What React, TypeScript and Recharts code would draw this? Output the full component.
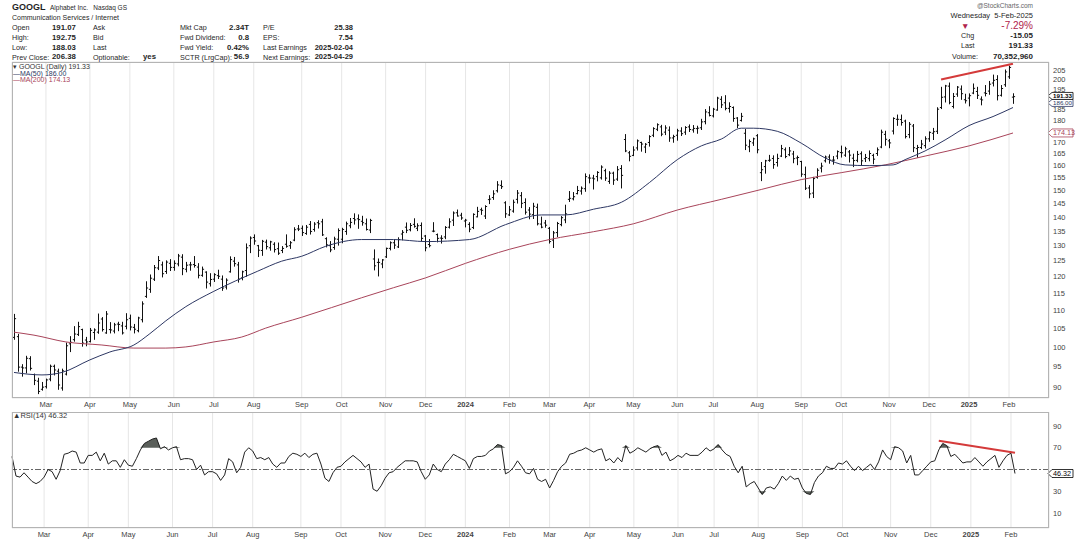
import React from "react";
import {
  Area,
  Bar,
  CartesianGrid,
  ComposedChart,
  Line,
  ReferenceLine,
  XAxis,
  YAxis,
} from "recharts";

const FONT = "'Liberation Sans', Arial, Helvetica, sans-serif";
const INK = "#1f1f1f";
const AXIS = "#444";
const GRID = "#e6e6e6";
const FRAME = "#b4b4b4";
const NAVY = "#2d3763";
const MAROON = "#a8445a";
const TREND = "#d43a3a";
const DOWN = "#b0234b";

// [open, high, low, close], one bar per two sessions, first bar 6-Feb-2023
const bars2023 = [
  [102.5, 108.8, 102.0, 107.6], [102.7, 103.3, 93.9, 94.9], [94.9, 95.5, 92.7, 94.7], [94.7, 97.6, 93.5, 97.1],
  [97.0, 97.5, 94.2, 94.6], [93.1, 93.2, 90.7, 91.7], [91.5, 92.2, 88.6, 89.1], [89.6, 91.2, 89.4, 90.1],
  [90.2, 92.0, 89.9, 91.8], [92.0, 95.4, 91.6, 95.1], [95.1, 95.4, 93.0, 94.2], [93.9, 94.4, 89.6, 90.6],
  [89.9, 94.4, 89.4, 94.0], [93.2, 101.0, 93.0, 100.3], [100.8, 102.7, 98.8, 101.2], [101.9, 105.4, 101.5, 103.4],
  [103.3, 106.6, 103.0, 105.4], [104.6, 104.7, 100.2, 101.0], [101.8, 102.5, 100.3, 101.3], [101.4, 104.9, 101.3, 104.4],
  [103.8, 104.8, 102.0, 104.5], [103.9, 108.9, 103.6, 106.4], [107.5, 107.9, 104.2, 104.6], [103.7, 109.6, 103.6, 108.9],
  [104.6, 106.5, 103.7, 104.5], [104.2, 106.3, 103.7, 105.9], [106.1, 106.6, 104.3, 106.0], [105.6, 106.6, 103.4, 103.7],
  [105.5, 109.0, 104.8, 107.3],
  [107.7, 108.6, 104.5, 105.3], [105.2, 106.0, 103.7, 104.7], [104.3, 108.0, 104.0, 107.8], [107.3, 112.4, 106.7, 111.8],
  [114.0, 118.4, 113.7, 116.5], [116.1, 120.5, 115.2, 119.5], [119.2, 123.5, 118.8, 122.8], [122.7, 126.4, 122.2, 125.1],
  [123.7, 124.6, 119.9, 120.9], [121.6, 125.0, 121.0, 124.6], [124.2, 125.4, 121.9, 122.9],
  [122.9, 125.0, 122.0, 124.2], [124.0, 127.1, 123.4, 126.6], [126.2, 127.0, 120.6, 122.5], [122.3, 124.5, 121.5, 123.6],
  [123.7, 124.5, 122.0, 123.7], [123.8, 126.4, 123.0, 123.5], [123.0, 124.1, 119.6, 120.4], [120.4, 123.0, 120.1, 122.3],
  [121.4, 121.5, 116.5, 118.3], [117.8, 120.9, 117.1, 119.1], [119.2, 120.9, 118.5, 120.6],
  [120.3, 122.0, 119.4, 120.1], [119.2, 120.2, 115.8, 116.5], [116.8, 119.3, 116.2, 118.9], [121.5, 126.3, 121.4, 125.4],
  [124.9, 126.1, 123.3, 124.1], [123.7, 124.5, 118.3, 119.2], [119.6, 121.7, 119.0, 121.5], [121.9, 130.6, 120.1, 129.3],
  [130.0, 133.0, 127.7, 132.6],
  [132.8, 133.7, 130.5, 131.6], [130.0, 130.1, 126.4, 128.5], [128.4, 131.8, 126.8, 131.5], [131.2, 131.9, 128.9, 129.7],
  [129.3, 131.5, 128.5, 131.3], [130.5, 131.0, 127.9, 128.7], [129.0, 130.9, 127.1, 127.5], [128.4, 129.7, 127.7, 129.1],
  [130.5, 133.7, 129.5, 129.8], [130.0, 131.4, 129.1, 131.0], [131.9, 136.2, 131.7, 135.5], [135.8, 137.0, 135.2, 135.7],
  [136.0, 136.8, 133.5, 134.5], [134.2, 137.0, 133.9, 136.4], [137.4, 138.4, 134.0, 134.9], [135.6, 138.0, 135.0, 137.5],
  [138.0, 138.7, 136.1, 137.6], [138.3, 139.2, 133.5, 133.7], [132.4, 132.7, 129.6, 130.3], [130.0, 131.4, 128.0, 128.6],
  [129.4, 132.9, 128.8, 132.3], [132.2, 135.8, 130.2, 135.2],
  [132.2, 136.0, 131.0, 135.6], [134.9, 138.2, 133.9, 137.6], [136.9, 139.5, 136.2, 138.1], [139.5, 141.2, 137.5, 139.0],
  [139.4, 140.8, 136.0, 139.1], [138.5, 140.3, 137.1, 138.0], [137.6, 139.3, 135.4, 135.6], [135.4, 139.2, 134.5, 138.8],
  [125.6, 128.6, 122.1, 123.4], [124.5, 125.6, 120.2, 124.5], [124.0, 125.4, 122.8, 125.3],
  [126.3, 129.2, 126.1, 129.1], [129.1, 131.3, 128.6, 131.0], [131.0, 132.1, 129.1, 130.2], [129.6, 132.7, 129.4, 132.1],
  [134.0, 135.2, 132.0, 134.6], [136.4, 137.9, 134.5, 135.3], [135.5, 137.7, 135.1, 137.0], [137.4, 139.4, 136.4, 136.7],
  [136.0, 137.6, 135.2, 136.9], [137.0, 137.9, 131.7, 132.5],
  [133.3, 133.5, 128.3, 129.3], [130.4, 132.1, 129.6, 130.0], [135.0, 138.0, 134.8, 135.0], [133.8, 134.0, 131.3, 132.5],
  [132.6, 133.4, 130.9, 132.5], [133.0, 136.6, 132.4, 136.3], [136.4, 139.4, 136.1, 138.3], [138.9, 141.9, 137.0, 141.5],
  [141.6, 142.6, 140.4, 140.4], [140.7, 141.4, 139.2, 139.7],
];

const bars2024 = [
  [138.6, 139.2, 136.5, 138.9], [137.4, 138.0, 134.8, 135.7], [136.3, 141.2, 135.9, 141.0], [140.1, 143.6, 140.1, 142.1],
  [142.7, 143.3, 141.0, 142.5], [140.4, 144.2, 139.5, 143.9], [146.5, 148.0, 145.0, 146.7], [147.3, 149.9, 146.6, 148.7],
  [149.9, 153.5, 149.4, 152.2], [152.0, 153.8, 150.8, 151.5], [145.3, 145.7, 139.9, 141.2],
  [140.8, 143.9, 140.6, 142.7], [142.2, 146.3, 141.8, 145.5], [146.6, 150.0, 145.2, 149.0], [148.0, 149.2, 143.5, 145.1],
  [145.4, 146.8, 141.1, 141.8], [142.6, 143.5, 139.4, 141.1], [140.9, 145.1, 139.5, 144.0], [143.6, 144.8, 137.2, 137.6],
  [137.5, 140.0, 136.2, 136.4], [137.9, 138.8, 136.4, 137.1],
  [136.0, 136.3, 130.9, 131.4], [131.9, 134.9, 129.4, 134.4], [134.5, 138.1, 133.1, 137.7], [137.3, 140.2, 136.9, 139.8],
  [139.0, 144.4, 138.0, 141.2], [146.6, 149.6, 145.8, 147.0], [146.8, 149.2, 146.4, 147.6], [148.8, 151.6, 148.7, 150.0],
  [149.8, 151.4, 148.6, 150.9], [150.7, 156.6, 149.7, 155.5],
  [155.0, 156.2, 153.0, 154.9], [154.9, 156.0, 150.6, 154.6], [155.5, 157.5, 153.8, 157.2], [155.0, 159.9, 154.5, 159.4],
  [157.9, 158.5, 154.0, 154.9], [153.6, 157.5, 152.8, 156.9], [156.9, 157.3, 152.4, 154.1], [154.5, 159.6, 154.0, 158.3],
  [158.8, 160.0, 151.0, 156.0], [171.2, 173.4, 165.9, 166.2], [165.4, 166.0, 162.0, 163.9],
  [164.3, 168.0, 164.2, 166.6], [167.5, 171.0, 166.6, 170.6], [169.9, 170.0, 166.1, 169.2], [167.9, 169.4, 165.5, 169.1],
  [169.9, 172.9, 168.3, 172.5], [173.1, 176.5, 172.5, 176.1], [175.8, 178.3, 175.2, 177.9], [176.9, 177.6, 172.9, 173.6],
  [174.5, 177.4, 173.4, 176.4], [175.4, 176.9, 170.4, 171.9], [171.9, 173.1, 170.0, 172.5],
  [173.1, 175.8, 170.9, 175.1], [175.0, 176.5, 173.0, 173.8], [174.5, 177.0, 173.5, 176.6], [176.9, 177.8, 174.8, 175.7],
  [175.5, 177.5, 174.5, 176.2], [176.1, 177.2, 174.0, 176.3], [176.5, 180.4, 175.7, 179.2], [179.3, 185.0, 178.3, 183.9],
  [183.5, 186.4, 182.0, 182.2],
  [182.0, 185.6, 181.5, 185.2], [184.8, 191.0, 184.7, 190.6], [190.0, 191.3, 186.0, 187.3], [188.3, 191.8, 184.9, 185.6],
  [185.6, 188.3, 183.8, 186.5], [186.0, 186.3, 179.5, 180.8], [181.0, 181.2, 176.6, 177.7], [179.9, 183.2, 179.6, 181.8],
  [174.0, 175.7, 166.8, 168.7], [168.0, 171.0, 165.9, 170.3], [169.7, 171.8, 168.6, 171.5],
  [172.9, 173.4, 165.4, 166.7], [157.1, 161.3, 153.9, 158.3], [159.6, 162.2, 156.9, 162.0], [162.2, 164.3, 161.8, 162.3],
  [163.0, 164.1, 158.9, 160.4], [161.3, 164.8, 159.8, 163.0], [164.0, 168.6, 163.8, 167.2], [166.7, 167.5, 163.3, 163.8],
  [164.6, 167.7, 164.2, 166.2], [164.9, 166.0, 161.2, 162.9], [163.2, 164.0, 160.4, 163.4],
  [161.7, 161.8, 155.6, 156.5], [156.3, 159.4, 150.4, 150.9], [151.0, 151.9, 147.2, 148.7], [149.0, 155.2, 147.3, 154.7],
  [155.2, 158.7, 154.9, 158.1], [159.0, 161.0, 157.4, 159.8], [162.0, 164.0, 161.5, 163.6], [163.6, 164.5, 161.0, 162.3],
  [162.3, 163.8, 160.6, 162.3], [164.0, 166.2, 162.9, 165.9],
  [165.5, 168.3, 163.6, 165.4], [164.4, 167.8, 163.9, 167.1], [165.8, 166.4, 161.5, 164.4], [163.1, 164.8, 159.6, 162.1],
  [162.2, 166.0, 161.6, 164.7], [165.0, 165.8, 160.4, 162.0], [162.9, 164.7, 161.7, 163.4], [162.9, 166.2, 162.0, 165.1],
  [164.3, 164.8, 160.8, 162.7], [165.1, 167.5, 164.3, 166.7], [167.9, 175.4, 167.6, 174.5], [173.5, 174.9, 168.7, 171.3],
  [170.6, 171.2, 167.6, 169.7], [175.0, 181.1, 173.7, 180.8], [180.4, 182.4, 177.6, 180.4], [180.3, 182.4, 177.7, 178.9],
  [179.6, 180.0, 171.9, 172.5], [173.4, 178.9, 172.0, 178.1], [177.3, 178.0, 165.9, 167.6], [167.2, 168.6, 163.5, 167.7],
  [167.7, 170.8, 167.2, 169.2], [168.5, 172.4, 167.5, 171.5],
  [171.5, 174.6, 170.4, 174.4], [174.0, 176.2, 171.2, 174.7], [174.9, 185.9, 173.9, 185.2], [186.0, 196.0, 185.5, 191.0],
  [191.2, 197.0, 188.7, 196.7], [196.6, 198.2, 187.8, 188.4], [186.5, 192.9, 185.8, 191.4], [192.6, 196.4, 191.5, 196.1],
  [195.1, 196.7, 190.0, 192.8], [189.8, 192.5, 188.2, 189.3],
];

const bars2025 = [
  [190.6, 192.7, 186.8, 191.8], [193.1, 197.7, 192.8, 195.5], [193.9, 196.0, 190.4, 192.0], [190.1, 191.2, 187.3, 189.7],
  [193.2, 196.9, 191.7, 192.9], [194.1, 199.0, 192.5, 197.6], [198.2, 202.3, 196.7, 199.6], [200.0, 202.0, 189.7, 191.8],
  [192.0, 196.9, 191.6, 195.4], [197.3, 205.0, 196.5, 204.0], [201.4, 207.05, 200.6, 206.38], [191.07, 192.75, 188.03, 191.33],
];

const rsi2023 = [
  62, 44, 43, 47, 43, 39, 37, 39, 43, 50, 48, 41, 49, 64, 65, 67, 66, 56, 56, 63,
  63, 66, 58, 65, 55, 58, 58, 52, 59, 54, 53, 60, 68, 74, 76, 78, 79, 69, 71, 68,
  70, 71, 59, 60, 60, 59, 50, 54, 45, 48, 48, 46, 40, 45, 60, 57, 47, 52, 66, 70,
  67, 60, 61, 59, 61, 55, 52, 56, 56, 62, 65, 64, 62, 65, 61, 64, 65, 55, 42, 39,
  47, 52, 53, 57, 60, 63, 60, 57, 52, 55, 32, 30, 35, 42, 47, 48, 52, 55, 58, 58,
  58, 57, 48, 41, 45, 55, 50, 48, 55, 59, 64, 62, 60,
];

const rsi2024 = [
  58, 51, 60, 62, 62, 63, 67, 69, 73, 72, 46, 48, 52, 58, 53, 47, 46, 51, 41, 39,
  41, 33, 40, 48, 53, 56, 64, 65, 67, 68, 70, 68, 66, 68, 69, 58, 60, 56, 61, 57,
  72, 65, 67, 70, 68, 66, 69, 71, 72, 63, 66, 58, 60, 63, 61, 65, 63, 63, 63, 66,
  70, 67, 69, 73, 68, 64, 62, 53, 47, 53, 34, 37, 39, 33, 27, 33, 34, 32, 37, 44,
  40, 44, 41, 42, 33, 28, 27, 38, 44, 47, 53, 51, 51, 56, 55, 58, 53, 49, 53, 49,
  52, 55, 50, 57, 68, 62, 59, 71, 70, 67, 56, 63, 45, 45, 49, 53, 57, 58, 68, 74,
  72, 62, 64, 60, 56, 57,
];

const rsi2025 = [57, 61, 57, 53, 57, 60, 63, 52, 58, 63, 65, 46.32];

// moving averages: [session index, value]
const ma50Points = [
  [0, 93.6], [14, 93.0], [24, 93.6], [38, 96.7], [48, 98.7], [60, 100.5], [68, 103.5], [76, 107.0],
  [86, 111.0], [100, 115.5], [122, 121.7], [134, 124.9], [144, 126.5], [156, 129.8], [174, 132.1],
  [190, 132.1], [206, 131.4], [228, 132.1], [246, 137.3], [264, 140.8], [276, 140.8], [290, 142.9],
  [304, 145.5], [318, 153.1], [332, 162.5], [344, 168.4], [354, 171.4], [364, 176.3], [370, 176.3],
  [382, 174.9], [394, 169.6], [406, 163.2], [416, 160.3], [428, 160.0], [440, 160.3], [446, 162.5],
  [456, 166.2], [466, 171.0], [478, 177.5], [490, 181.7], [500, 186.0],
];

const ma200Points = [
  [0, 103.9], [10, 103.1], [26, 101.3], [44, 100.5], [60, 99.7], [76, 99.7], [86, 100.0], [100, 101.3],
  [114, 102.6], [126, 105.0], [144, 108.0], [174, 113.6], [190, 116.6], [206, 119.6], [226, 124.2],
  [248, 128.8], [268, 132.1], [290, 134.8], [310, 137.6], [332, 142.6], [354, 146.6], [374, 150.4],
  [394, 154.3], [414, 157.1], [436, 160.3], [456, 164.0], [478, 168.4], [500, 174.13],
];

const priceTicks = [90, 95, 100, 105, 110, 115, 120, 125, 130, 135, 140, 145, 150, 155, 160, 165, 170, 175, 180, 185, 190, 195, 200, 205];
const rsiTicks = [10, 30, 50, 70, 90];
// tick labels that sit under the value tags on the right edge
const hiddenPriceTicks = [190, 175];
const hiddenRsiTicks = [50];
const monthTicks = [16, 38, 58, 80, 100, 120, 144, 164, 186, 206, 226, 248, 268, 288, 310, 332, 350, 372, 394, 414, 438, 458, 478, 498];
const monthLabels = ["Mar", "Apr", "May", "Jun", "Jul", "Aug", "Sep", "Oct", "Nov", "Dec", "2024", "Feb", "Mar", "Apr", "May", "Jun", "Jul", "Aug", "Sep", "Oct", "Nov", "Dec", "2025", "Feb"];

const priceTrend = [{ x: 464, y: 200.0 }, { x: 500, y: 208.3 }];
const rsiTrend = [{ x: 462, y: 76.5 }, { x: 500, y: 65.5 }];

const allBars = [...bars2023, ...bars2024, ...bars2025];
const allRsi = [...rsi2023, ...rsi2024, ...rsi2025];
const ma50Map = new Map(ma50Points.map(([t, v]) => [t, v]));
const ma200Map = new Map(ma200Points.map(([t, v]) => [t, v]));

const rows = allBars.map((b, i) => {
  const t = i * 2;
  const r = allRsi[i];
  return {
    t,
    o: b[0],
    h: b[1],
    l: b[2],
    c: b[3],
    hl: [b[2], b[1]],
    ma50: ma50Map.get(t) ?? null,
    ma200: ma200Map.get(t) ?? null,
    rsi: r,
    ob: [70, Math.max(70, r)],
    os: [Math.min(30, r), 30],
  };
});

function OhlcBar(props: any) {
  const { x, y, width, height, payload } = props;
  if (!payload || y == null || height == null) return null;
  const top = Math.min(y, y + height);
  const bot = Math.max(y, y + height);
  const span = Math.log(payload.h) - Math.log(payload.l);
  const at = (v: number) =>
    span > 0 ? top + ((bot - top) * (Math.log(payload.h) - Math.log(v))) / span : top;
  const cx = Math.round(x + width / 2) + 0.5;
  return (
    <g stroke="#111" strokeWidth={1}>
      <line x1={cx} x2={cx} y1={top - 0.5} y2={bot + 0.5} />
      <line x1={cx - 1.6} x2={cx} y1={at(payload.o)} y2={at(payload.o)} />
      <line x1={cx} x2={cx + 1.6} y1={at(payload.c)} y2={at(payload.c)} />
    </g>
  );
}

function MonthTick({ x, y, payload }: any) {
  const label = monthLabels[monthTicks.indexOf(payload.value)] ?? "";
  const isYear = /^\d{4}$/.test(label);
  return (
    <text x={x} y={y} dy={7} textAnchor="middle" fontSize={7.5} fontFamily={FONT}
      fontWeight={isYear ? 700 : 400} fill={AXIS}>
      {label}
    </text>
  );
}

function ValueTick({ x, y, payload, hidden }: any) {
  if (hidden.includes(payload.value)) return null;
  return (
    <text x={x} y={y} dy="0.35em" textAnchor="start" fontSize={7.5} fontFamily={FONT} fill={AXIS}>
      {payload.value}
    </text>
  );
}

function Tag({ viewBox, text, color, bold, shift = 0, h = 8 }: any) {
  if (!viewBox) return null;
  const x0 = viewBox.x + viewBox.width - 1;
  const y = viewBox.y + shift;
  const w = 25;
  return (
    <g>
      <path
        d={`M${x0},${y} L${x0 + 4},${y - h / 2} L${x0 + w},${y - h / 2} L${x0 + w},${y + h / 2} L${x0 + 4},${y + h / 2} Z`}
        fill="#fff" stroke={color} strokeWidth={0.8}
      />
      <text x={x0 + 5} y={y} dy="0.35em" fontSize={h - 0.8} fontFamily={FONT}
        fontWeight={bold ? 700 : 400} fill={color}>
        {text}
      </text>
    </g>
  );
}

function Txt({ x, y, children, bold = false, size = 7.2, color = INK, right = false }: any) {
  const style: React.CSSProperties = {
    position: "absolute",
    top: y,
    fontSize: size,
    fontWeight: bold ? 700 : 400,
    color,
    whiteSpace: "nowrap",
    lineHeight: 1,
  };
  if (right) style.right = 1080 - x;
  else style.left = x;
  return <div style={style}>{children}</div>;
}

function Header() {
  const rowsY = [24, 34, 44, 53.5];
  return (
    <>
      <Txt x={12} y={3} bold size={9}>GOOGL</Txt>
      <Txt x={50} y={4.5} size={6.5}>Alphabet Inc.&nbsp;&nbsp;&nbsp;Nasdaq GS</Txt>
      <Txt x={12} y={14} size={7}>Communication Services / Internet</Txt>

      {["Open", "High:", "Low:", "Prev Close:"].map((s, i) => (
        <Txt key={s} x={12} y={rowsY[i]}>{s}</Txt>
      ))}
      {["191.07", "192.75", "188.03", "206.38"].map((s, i) => (
        <Txt key={s} x={52} y={rowsY[i] - 0.5} bold size={7.8}>{s}</Txt>
      ))}
      {["Ask", "Bid", "Last", "Optionable:"].map((s, i) => (
        <Txt key={s} x={93} y={rowsY[i]}>{s}</Txt>
      ))}
      <Txt x={143} y={rowsY[3] - 0.5} bold size={7.8}>yes</Txt>
      {["Mkt Cap", "Fwd Dividend:", "Fwd Yield:", "SCTR (LrgCap):"].map((s, i) => (
        <Txt key={s} x={180} y={rowsY[i]}>{s}</Txt>
      ))}
      {["2.34T", "0.8", "0.42%", "56.9"].map((s, i) => (
        <Txt key={s} x={249} y={rowsY[i] - 0.5} bold size={7.8} right>{s}</Txt>
      ))}
      {["P/E", "EPS:", "Last Earnings", "Next Earnings:"].map((s, i) => (
        <Txt key={s} x={263} y={rowsY[i]}>{s}</Txt>
      ))}
      {["25.38", "7.54", "2025-02-04", "2025-04-29"].map((s, i) => (
        <Txt key={s} x={353} y={rowsY[i] - 0.5} bold size={7.5} right>{s}</Txt>
      ))}

      <Txt x={1033} y={3} size={6.5} color="#666" right>@StockCharts.com</Txt>
      <Txt x={1033} y={12} size={7.5} right>Wednesday&nbsp;&nbsp;5-Feb-2025</Txt>
      <Txt x={961} y={21.5} size={8.5} color={DOWN}>▼</Txt>
      <Txt x={1033} y={21} size={10} color={DOWN} right>-7.29%</Txt>
      <Txt x={961} y={32}>Chg</Txt>
      <Txt x={1033} y={31.5} bold size={8} right>-15.05</Txt>
      <Txt x={961} y={42}>Last</Txt>
      <Txt x={1033} y={41.5} bold size={8} right>191.33</Txt>
      <Txt x={952} y={53}>Volume:</Txt>
      <Txt x={1033} y={52.5} bold size={8} right>70,352,960</Txt>

      <Txt x={13} y={63} size={7} color="#333">▾ GOOGL (Daily) 191.33</Txt>
      <Txt x={13} y={69.5} size={7} color={NAVY}>—MA(50) 186.00</Txt>
      <Txt x={13} y={76} size={7} color={MAROON}>—MA(200) 174.13</Txt>
      <Txt x={13} y={411.5} size={7.5} color="#333">▲RSI(14) 46.32</Txt>
    </>
  );
}

export default function App() {
  const frame = (top: number, height: number): React.CSSProperties => ({
    position: "absolute",
    left: 12,
    top,
    width: 1037,
    height,
    border: `1px solid ${FRAME}`,
    boxSizing: "border-box",
    pointerEvents: "none",
  });

  return (
    <div style={{ position: "absolute", left: 0, top: 0, width: 1080, height: 540, background: "#fff", fontFamily: FONT, overflow: "hidden" }}>
      <div style={{ position: "absolute", left: 0, top: 0 }}>
        <ComposedChart width={1080} height={412} data={rows} margin={{ top: 62, right: 3, bottom: 0, left: 12 }}>
          <CartesianGrid stroke={GRID} strokeWidth={1} />
          <XAxis dataKey="t" type="category" ticks={monthTicks} interval={0} tick={<MonthTick />}
            tickLine={false} axisLine={false} tickSize={0} height={14} tickMargin={2}
            padding={{ left: 0, right: 34 }} />
          <YAxis yAxisId="p" orientation="right" scale="log" type="number" domain={[87.6, 209.3]}
            allowDataOverflow ticks={priceTicks} interval={0} tick={<ValueTick hidden={hiddenPriceTicks} />}
            tickLine={false} axisLine={false} tickSize={0} tickMargin={4} width={28} />
          <Bar yAxisId="p" dataKey="hl" shape={<OhlcBar />} isAnimationActive={false} />
          <Line yAxisId="p" type="monotone" dataKey="ma200" stroke={MAROON} strokeWidth={1} dot={false}
            connectNulls isAnimationActive={false} />
          <Line yAxisId="p" type="monotone" dataKey="ma50" stroke={NAVY} strokeWidth={1} dot={false}
            connectNulls isAnimationActive={false} />
          <ReferenceLine yAxisId="p" segment={priceTrend} stroke={TREND} strokeWidth={2} ifOverflow="visible" />
          <ReferenceLine yAxisId="p" y={174.13} stroke="none" label={<Tag text="174.13" color={MAROON} />} />
          <ReferenceLine yAxisId="p" y={186.0} stroke="none" label={<Tag text="186.00" color={NAVY} shift={-4.6} h={7} />} />
          <ReferenceLine yAxisId="p" y={191.33} stroke="none" label={<Tag text="191.33" color="#000" bold shift={-0.7} h={7} />} />
        </ComposedChart>
      </div>

      <div style={{ position: "absolute", left: 0, top: 412 }}>
        <ComposedChart width={1080} height={128} data={rows} margin={{ top: 0, right: 3, bottom: 0, left: 12 }}>
          <CartesianGrid stroke={GRID} strokeWidth={1} />
          <XAxis dataKey="t" type="category" ticks={monthTicks} interval={0} tick={<MonthTick />}
            tickLine={false} axisLine={false} tickSize={0} height={12} tickMargin={2}
            padding={{ left: 0, right: 34 }} />
          <YAxis yAxisId="r" orientation="right" type="number" domain={[-3.8, 102.9]} allowDataOverflow
            ticks={rsiTicks} interval={0} tick={<ValueTick hidden={hiddenRsiTicks} />} tickLine={false}
            axisLine={false} tickSize={0} tickMargin={4} width={28} />
          <ReferenceLine yAxisId="r" y={50} stroke="#666" strokeDasharray="6 2 2 2" />
          <Area yAxisId="r" dataKey="ob" stroke="none" fill="#5a5f5a" fillOpacity={1} isAnimationActive={false} />
          <Area yAxisId="r" dataKey="os" stroke="none" fill="#5a5f5a" fillOpacity={1} isAnimationActive={false} />
          <Line yAxisId="r" dataKey="rsi" stroke="#222" strokeWidth={1} dot={false} isAnimationActive={false} />
          <ReferenceLine yAxisId="r" segment={rsiTrend} stroke={TREND} strokeWidth={2} ifOverflow="visible" />
          <ReferenceLine yAxisId="r" y={46.32} stroke="none" label={<Tag text="46.32" color="#000" />} />
        </ComposedChart>
      </div>

      <div style={frame(62, 336)} />
      <div style={frame(412, 116)} />
      <Header />
    </div>
  );
}
